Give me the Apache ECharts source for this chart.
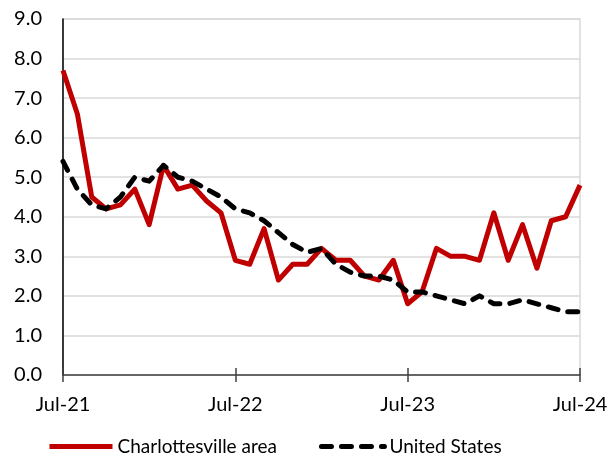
<!DOCTYPE html>
<html>
<head>
<meta charset="utf-8">
<script src="https://cdn.jsdelivr.net/npm/echarts@6/dist/echarts.min.js"></script>
<style>html,body{margin:0;padding:0;background:#fff}#c{width:612px;height:455px}</style>
</head>
<body>
<div id="c"></div>
<script>
const months = ["Jul-21","Aug-21","Sep-21","Oct-21","Nov-21","Dec-21","Jan-22","Feb-22","Mar-22","Apr-22","May-22","Jun-22",
"Jul-22","Aug-22","Sep-22","Oct-22","Nov-22","Dec-22","Jan-23","Feb-23","Mar-23","Apr-23","May-23","Jun-23",
"Jul-23","Aug-23","Sep-23","Oct-23","Nov-23","Dec-23","Jan-24","Feb-24","Mar-24","Apr-24","May-24","Jun-24","Jul-24"];
const charlottesville = [7.7,6.6,4.5,4.2,4.3,4.7,3.8,5.3,4.7,4.8,4.4,4.1,2.9,2.8,3.7,2.4,2.8,2.8,3.2,2.9,2.9,2.5,2.4,2.9,1.8,2.1,3.2,3.0,3.0,2.9,4.1,2.9,3.8,2.7,3.9,4.0,4.8];
const unitedStates = [5.4,4.7,4.3,4.2,4.5,5.0,4.9,5.3,5.0,4.9,4.7,4.5,4.2,4.1,3.9,3.6,3.3,3.1,3.2,2.8,2.6,2.5,2.5,2.4,2.1,2.1,2.0,1.9,1.8,2.0,1.8,1.8,1.9,1.8,1.7,1.6,1.6];
const seriesNames = ["Charlottesville area","United States"];

const FONT = "Lato";
const chart = echarts.init(document.getElementById('c'), null, {renderer:'canvas'});
const every12 = (i) => i % 12 === 0;
chart.setOption({
  animation:false,
  textStyle:{fontFamily:FONT},
  grid:{left:63,right:32,top:19,bottom:80,show:true,borderColor:'#d9d9d9',borderWidth:1.5},
  legend:{
    left:42, top:432, itemWidth:63, itemHeight:20, itemGap:42,
    itemStyle:{opacity:0},
    lineStyle:{width:5},
    textStyle:{fontFamily:FONT,fontSize:19,color:'#000'},
    data:seriesNames
  },
  xAxis:[{
    type:'category', data:months, boundaryGap:false,
    axisLine:{lineStyle:{color:'#404040',width:1.5}},
    axisTick:{show:true,interval:(i)=>every12(i),length:7,lineStyle:{color:'#404040',width:1.5}},
    axisLabel:{interval:(i)=>every12(i),fontSize:20,color:'#000',margin:20,fontFamily:FONT},
    splitLine:{show:false}
  },{
    type:'category', data:months, boundaryGap:false, position:'bottom',
    axisLine:{show:false},
    axisTick:{show:true,inside:true,interval:(i)=>every12(i),length:7,lineStyle:{color:'#404040',width:1.5}},
    axisLabel:{show:false},
    splitLine:{show:false}
  }],
  yAxis:{
    type:'value', min:0, max:9, interval:1,
    axisLine:{show:true,lineStyle:{color:'#000',width:1.5}},
    axisTick:{show:false},
    axisLabel:{formatter:(v)=>v.toFixed(1),fontSize:20,color:'#000',margin:21,fontFamily:FONT},
    splitLine:{lineStyle:{color:'#d9d9d9',width:1.5}}
  },
  series:[{
    name:seriesNames[0], type:'line', data:charlottesville, symbol:'none', xAxisIndex:0,
    lineStyle:{color:'#c00000',width:5,join:'round'}, itemStyle:{color:'#c00000'}, z:2
  },{
    name:seriesNames[1], type:'line', data:unitedStates, symbol:'none', xAxisIndex:0,
    lineStyle:{color:'#000',width:5,type:[10,10],cap:'round',join:'round'}, itemStyle:{color:'#000'}, z:3
  }]
});
</script>
</body>
</html>
